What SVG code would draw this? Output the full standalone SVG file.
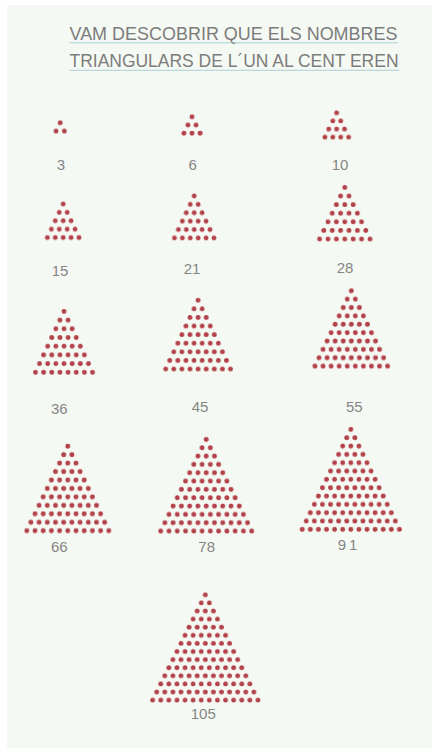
<svg xmlns="http://www.w3.org/2000/svg" width="432" height="751" viewBox="0 0 432 751">
<style>
.title{font-family:"Liberation Sans","Arial",sans-serif;font-size:18.5px;fill:#7c7c7c;}
.lbl{font-family:"Liberation Sans","Arial",sans-serif;font-size:15px;fill:#858585;text-anchor:middle;}
.ul{stroke:#a3c9d4;stroke-width:0.9;}
.d{fill:#b3414a;}
</style>
<defs>
<pattern id="p3" patternUnits="userSpaceOnUse" x="58.125" y="118.65" width="8.3" height="16.6"><circle class="d" cx="2.075" cy="4.15" r="2.4"/><circle class="d" cx="10.375" cy="4.15" r="2.4"/><circle class="d" cx="6.225" cy="12.45" r="2.4"/><circle class="d" cx="-2.075" cy="12.45" r="2.4"/></pattern>
<pattern id="p6" patternUnits="userSpaceOnUse" x="189.975" y="112.7" width="8.1" height="16.4"><circle class="d" cx="2.025" cy="4.1" r="2.4"/><circle class="d" cx="10.125" cy="4.1" r="2.4"/><circle class="d" cx="6.075" cy="12.3" r="2.4"/><circle class="d" cx="-2.025" cy="12.3" r="2.4"/></pattern>
<pattern id="p10" patternUnits="userSpaceOnUse" x="334.725" y="108.75" width="7.9" height="16.2"><circle class="d" cx="1.975" cy="4.05" r="2.4"/><circle class="d" cx="9.875" cy="4.05" r="2.4"/><circle class="d" cx="5.925" cy="12.15" r="2.4"/><circle class="d" cx="-1.975" cy="12.15" r="2.4"/></pattern>
<pattern id="p15" patternUnits="userSpaceOnUse" x="61.225" y="199.8" width="7.9" height="16.8"><circle class="d" cx="1.975" cy="4.2" r="2.4"/><circle class="d" cx="9.875" cy="4.2" r="2.4"/><circle class="d" cx="5.925" cy="12.6" r="2.4"/><circle class="d" cx="-1.975" cy="12.6" r="2.4"/></pattern>
<pattern id="p21" patternUnits="userSpaceOnUse" x="192.225" y="191.8" width="7.9" height="16.8"><circle class="d" cx="1.975" cy="4.2" r="2.4"/><circle class="d" cx="9.875" cy="4.2" r="2.4"/><circle class="d" cx="5.925" cy="12.6" r="2.4"/><circle class="d" cx="-1.975" cy="12.6" r="2.4"/></pattern>
<pattern id="p28" patternUnits="userSpaceOnUse" x="342.7" y="183.1" width="8.4" height="17.2"><circle class="d" cx="2.1" cy="4.3" r="2.4"/><circle class="d" cx="10.5" cy="4.3" r="2.4"/><circle class="d" cx="6.3" cy="12.9" r="2.4"/><circle class="d" cx="-2.1" cy="12.9" r="2.4"/></pattern>
<pattern id="p36" patternUnits="userSpaceOnUse" x="61.9625" y="307.05" width="8.15" height="17.4"><circle class="d" cx="2.0375" cy="4.35" r="2.4"/><circle class="d" cx="10.1875" cy="4.35" r="2.4"/><circle class="d" cx="6.1125" cy="13.05" r="2.4"/><circle class="d" cx="-2.0375" cy="13.05" r="2.4"/></pattern>
<pattern id="p45" patternUnits="userSpaceOnUse" x="196.075" y="295.9" width="8.1" height="17.2"><circle class="d" cx="2.025" cy="4.3" r="2.4"/><circle class="d" cx="10.125" cy="4.3" r="2.4"/><circle class="d" cx="6.075" cy="12.9" r="2.4"/><circle class="d" cx="-2.025" cy="12.9" r="2.4"/></pattern>
<pattern id="p55" patternUnits="userSpaceOnUse" x="349.2825" y="286.615" width="8.07" height="16.74"><circle class="d" cx="2.0175" cy="4.185" r="2.4"/><circle class="d" cx="10.0875" cy="4.185" r="2.4"/><circle class="d" cx="6.0525" cy="12.555" r="2.4"/><circle class="d" cx="-2.0175" cy="12.555" r="2.4"/></pattern>
<pattern id="p66" patternUnits="userSpaceOnUse" x="65.75" y="441.975" width="8.2" height="16.9"><circle class="d" cx="2.05" cy="4.225" r="2.4"/><circle class="d" cx="10.25" cy="4.225" r="2.4"/><circle class="d" cx="6.15" cy="12.675" r="2.4"/><circle class="d" cx="-2.05" cy="12.675" r="2.4"/></pattern>
<pattern id="p78" patternUnits="userSpaceOnUse" x="204.1325" y="435.235" width="8.27" height="16.66"><circle class="d" cx="2.0675" cy="4.165" r="2.4"/><circle class="d" cx="10.3375" cy="4.165" r="2.4"/><circle class="d" cx="6.2025" cy="12.495" r="2.4"/><circle class="d" cx="-2.0675" cy="12.495" r="2.4"/></pattern>
<pattern id="p91" patternUnits="userSpaceOnUse" x="348.775" y="425.235" width="8.1" height="16.66"><circle class="d" cx="2.025" cy="4.165" r="2.4"/><circle class="d" cx="10.125" cy="4.165" r="2.4"/><circle class="d" cx="6.075" cy="12.495" r="2.4"/><circle class="d" cx="-2.025" cy="12.495" r="2.4"/></pattern>
<pattern id="p105" patternUnits="userSpaceOnUse" x="203.275" y="590.75" width="8.1" height="16.2"><circle class="d" cx="2.025" cy="4.05" r="2.4"/><circle class="d" cx="10.125" cy="4.05" r="2.4"/><circle class="d" cx="6.075" cy="12.15" r="2.4"/><circle class="d" cx="-2.025" cy="12.15" r="2.4"/></pattern>
</defs>
<rect x="0" y="0" width="432" height="751" fill="#ffffff"/>
<rect x="7" y="5" width="425" height="743" fill="#f5f9f3"/>
<g id="title">
<text class="title" x="69.5" y="39.5" textLength="328" lengthAdjust="spacingAndGlyphs">VAM DESCOBRIR QUE ELS NOMBRES</text>
<line class="ul" x1="69" y1="42.8" x2="398" y2="42.8"/>
<text class="title" x="69.5" y="66.7" textLength="329" lengthAdjust="spacingAndGlyphs">TRIANGULARS DE L´UN AL CENT EREN</text>
<line class="ul" x1="69" y1="70.3" x2="399" y2="70.3"/>
</g>
<g id="t3"><polygon points="60.2,114.5 49.825,135.25 70.575,135.25" fill="url(#p3)"/><text class="lbl" x="61" y="169.5">3</text></g>
<g id="t6"><polygon points="192,108.6 177.825,137.3 206.175,137.3" fill="url(#p6)"/><text class="lbl" x="192.7" y="169.5">6</text></g>
<g id="t10"><polygon points="336.7,104.7 318.925,141.15 354.475,141.15" fill="url(#p10)"/><text class="lbl" x="340" y="169.5">10</text></g>
<g id="t15"><polygon points="63.2,195.6 41.475,241.8 84.925,241.8" fill="url(#p15)"/><text class="lbl" x="60" y="275.5">15</text></g>
<g id="t21"><polygon points="194.2,187.6 168.525,242.2 219.875,242.2" fill="url(#p21)"/><text class="lbl" x="192" y="274">21</text></g>
<g id="t28"><polygon points="344.8,178.8 313.3,243.3 376.3,243.3" fill="url(#p28)"/><text class="lbl" x="345" y="273">28</text></g>
<g id="t36"><polygon points="64,302.7 29.3625,376.65 98.6375,376.65" fill="url(#p36)"/><text class="lbl" x="59.3" y="413.5">36</text></g>
<g id="t45"><polygon points="198.1,291.6 159.625,373.3 236.575,373.3" fill="url(#p45)"/><text class="lbl" x="200" y="412">45</text></g>
<g id="t55"><polygon points="351.3,282.43 308.9325,370.315 393.6675,370.315" fill="url(#p55)"/><text class="lbl" x="354.3" y="411.5">55</text></g>
<g id="t66"><polygon points="67.8,437.75 20.65,534.925 114.95,534.925" fill="url(#p66)"/><text class="lbl" x="59.3" y="552">66</text></g>
<g id="t78"><polygon points="206.2,431.07 154.5125,535.195 257.8875,535.195" fill="url(#p78)"/><text class="lbl" x="206.7" y="551.5">78</text></g>
<g id="t91"><polygon points="350.8,421.07 296.125,533.525 405.475,533.525" fill="url(#p91)"/><text class="lbl" x="349" y="549.5" letter-spacing="3">91</text></g>
<g id="t105"><polygon points="205.3,586.7 146.575,704.15 264.025,704.15" fill="url(#p105)"/><text class="lbl" x="203.3" y="718.5">105</text></g>
</svg>
